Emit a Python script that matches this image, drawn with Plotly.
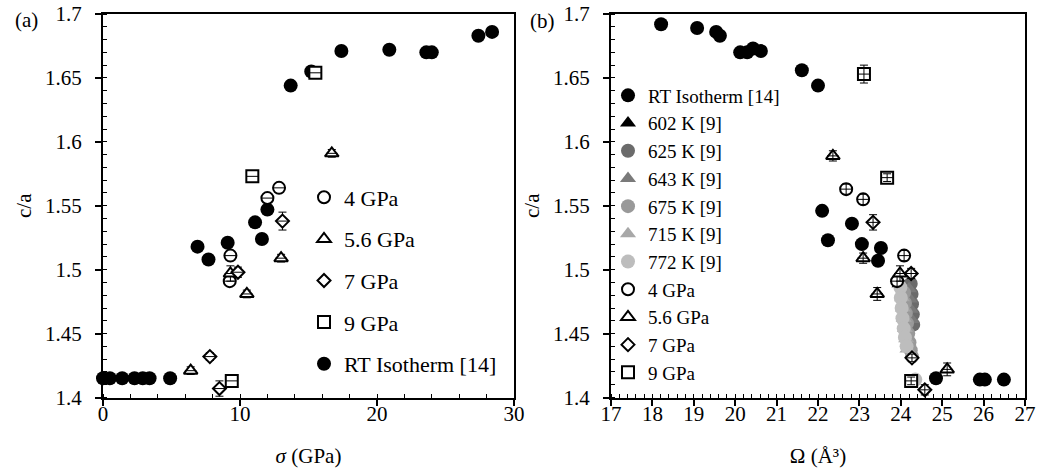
import plotly.graph_objects as go

# ---------------- Panel (a): c/a vs sigma ----------------
rt_sigma = [0.0, 0.5, 1.4, 2.3, 2.9, 3.4, 4.9, 6.9, 7.7, 9.1, 11.1, 11.6, 12.0,
            13.7, 15.2, 17.4, 20.9, 23.6, 24.0, 27.4, 28.4]
rt_ca_a = [1.415, 1.415, 1.415, 1.415, 1.415, 1.415, 1.415, 1.518, 1.508, 1.521,
           1.537, 1.524, 1.547, 1.644, 1.655, 1.671, 1.672, 1.670, 1.670, 1.683, 1.686]

a4_sigma = [9.25, 9.3, 12.0, 12.85]
a4_ca = [1.491, 1.511, 1.556, 1.564]
a4_err = [0.003, 0.003, 0.003, 0.003]

a56_sigma = [6.4, 9.3, 10.5, 13.0, 16.7]
a56_ca = [1.421, 1.497, 1.481, 1.509, 1.591]
a56_err = [0.003, 0.006, 0.003, 0.003, 0.003]

a7_sigma = [8.5, 7.8, 9.85, 13.1]
a7_ca = [1.407, 1.432, 1.498, 1.538]
a7_err = [0.006, 0.003, 0.004, 0.007]

a9_sigma = [9.4, 10.9, 15.5]
a9_ca = [1.413, 1.573, 1.654]
a9_err = [0.003, 0.003, 0.004]

# ---------------- Panel (b): c/a vs Omega ----------------
rt_omega = [18.21, 19.08, 19.54, 19.63, 20.12, 20.29, 20.43, 20.62, 21.61, 22.00,
            22.10, 22.24, 22.82, 23.06, 23.45, 23.52, 24.85, 25.91, 26.03, 26.49]
rt_ca_b = [1.692, 1.689, 1.686, 1.683, 1.670, 1.670, 1.673, 1.671, 1.656, 1.644,
           1.546, 1.523, 1.536, 1.520, 1.507, 1.517, 1.415, 1.414, 1.414, 1.414]

k602_omega = [23.93, 23.97]
k602_ca = [1.493, 1.489]
k625_omega = [24.24, 24.26, 24.27, 24.29, 24.30]
k625_ca = [1.489, 1.481, 1.473, 1.465, 1.457]
k643_omega = [24.20, 24.22, 24.24, 24.26]
k643_ca = [1.485, 1.477, 1.469, 1.461]
k675_omega = [24.08, 24.10, 24.12, 24.15, 24.18, 24.21, 24.24, 24.27]
k675_ca = [1.482, 1.474, 1.466, 1.458, 1.450, 1.443, 1.437, 1.432]
k715_omega = [24.03, 24.05, 24.07, 24.10, 24.13, 24.16]
k715_ca = [1.478, 1.470, 1.462, 1.454, 1.446, 1.438]
k772_omega = [23.99, 24.00, 24.02, 24.04, 24.07, 24.10, 24.14, 24.35]
k772_ca = [1.486, 1.478, 1.470, 1.462, 1.454, 1.447, 1.440, 1.414]

b4_omega = [22.68, 23.09, 24.08, 23.91]
b4_ca = [1.563, 1.555, 1.511, 1.491]
b4_err = [0.004, 0.004, 0.004, 0.004]

b56_omega = [22.36, 23.09, 23.98, 23.43, 25.12]
b56_ca = [1.589, 1.509, 1.497, 1.481, 1.422]
b56_err = [0.004, 0.004, 0.006, 0.005, 0.005]

b7_omega = [23.33, 24.25, 24.27, 24.58]
b7_ca = [1.537, 1.497, 1.431, 1.406]
b7_err = [0.006, 0.004, 0.003, 0.004]

b9_omega = [23.11, 23.67, 24.25]
b9_ca = [1.653, 1.572, 1.413]
b9_err = [0.007, 0.003, 0.003]

FONT = "Liberation Serif"
fig = go.Figure()

SIZES = {"circle": 12, "triangle-up": 12, "diamond": 10, "square": 12}

open_series_a = [
    ("4 GPa", "circle", a4_sigma, a4_ca, a4_err),
    ("5.6 GPa", "triangle-up", a56_sigma, a56_ca, a56_err),
    ("7 GPa", "diamond", a7_sigma, a7_ca, a7_err),
    ("9 GPa", "square", a9_sigma, a9_ca, a9_err),
]
open_series_b = [
    ("4 GPa", "circle", b4_omega, b4_ca, b4_err),
    ("5.6 GPa", "triangle-up", b56_omega, b56_ca, b56_err),
    ("7 GPa", "diamond", b7_omega, b7_ca, b7_err),
    ("9 GPa", "square", b9_omega, b9_ca, b9_err),
]

# ---- panel (a) traces ----
fig.add_trace(go.Scatter(x=rt_sigma, y=rt_ca_a, mode="markers", name="RT Isotherm [14]",
                         marker=dict(symbol="circle", size=14, color="black"),
                         xaxis="x", yaxis="y", legend="legend", legendgroup="a_rt",
                         legendrank=5, cliponaxis=False))
for i, (nm, sym, xs, ys, es) in enumerate(open_series_a):
    fig.add_trace(go.Scatter(x=xs, y=ys, mode="markers", name=nm,
                             marker=dict(symbol=sym, size=SIZES[sym], color="white",
                                         line=dict(color="black", width=2)),
                             error_y=dict(type="data", array=es, color="black",
                                          thickness=1, width=4),
                             xaxis="x", yaxis="y", legend="legend", legendgroup="a" + nm,
                             legendrank=i + 1, cliponaxis=False))
    # horizontal bar drawn across the marker
    fig.add_trace(go.Scatter(x=xs, y=ys, mode="markers", showlegend=False, hoverinfo="skip",
                             marker=dict(size=1, color="rgba(0,0,0,0)"),
                             error_x=dict(type="constant", value=0.42, color="black",
                                          thickness=1, width=0),
                             xaxis="x", yaxis="y", cliponaxis=False))

# ---- panel (b) traces ----
fig.add_trace(go.Scatter(x=rt_omega, y=rt_ca_b, mode="markers", name="RT Isotherm [14]",
                         marker=dict(symbol="circle", size=14, color="black"),
                         xaxis="x2", yaxis="y2", legend="legend2", legendrank=1,
                         cliponaxis=False))
temp_series = [
    ("602 K [9]", "triangle-up", "#000000", k602_omega, k602_ca),
    ("625 K [9]", "circle", "#6b6b6b", k625_omega, k625_ca),
    ("643 K [9]", "triangle-up", "#7a7a7a", k643_omega, k643_ca),
    ("675 K [9]", "circle", "#999999", k675_omega, k675_ca),
    ("715 K [9]", "triangle-up", "#a8a8a8", k715_omega, k715_ca),
    ("772 K [9]", "circle", "#bdbdbd", k772_omega, k772_ca),
]
for i, (nm, sym, col, xs, ys) in enumerate(temp_series):
    fig.add_trace(go.Scatter(x=xs, y=ys, mode="markers", name=nm,
                             marker=dict(symbol=sym, size=14, color=col),
                             xaxis="x2", yaxis="y2", legend="legend2", legendrank=2 + i,
                             cliponaxis=False))
for i, (nm, sym, xs, ys, es) in enumerate(open_series_b):
    fig.add_trace(go.Scatter(x=xs, y=ys, mode="markers", name=nm,
                             marker=dict(symbol=sym, size=SIZES[sym], color="white",
                                         line=dict(color="black", width=2)),
                             xaxis="x2", yaxis="y2", legend="legend2", legendrank=8 + i,
                             cliponaxis=False))
    fig.add_trace(go.Scatter(x=xs, y=ys, mode="markers", showlegend=False, hoverinfo="skip",
                             marker=dict(size=1, color="rgba(0,0,0,0)"),
                             error_x=dict(type="constant", value=0.14, color="black",
                                          thickness=1, width=0),
                             error_y=dict(type="data", array=es, color="black",
                                          thickness=1, width=4),
                             xaxis="x2", yaxis="y2", cliponaxis=False))

tickfont = dict(family=FONT, size=21, color="#000000")
titlefont = dict(family=FONT, size=21, color="#000000")


def base_axis(rng, dtick, minor_dtick, domain, anchor, title, standoff, labelstand):
    return dict(range=rng, dtick=dtick, tick0=rng[0], domain=domain, anchor=anchor,
                showline=True, linecolor="black", linewidth=2, mirror=True,
                ticks="outside", ticklen=6, tickwidth=1.5, tickcolor="black",
                minor=dict(ticks="inside", ticklen=4, tickwidth=1.2, tickcolor="black",
                           dtick=minor_dtick, showgrid=False),
                showgrid=False, zeroline=False, automargin=False,
                tickfont=tickfont, ticklabelstandoff=labelstand,
                title=dict(text=title, font=titlefont, standoff=standoff))


def inner_axis(rng, dtick, overlay, anchor):
    return dict(range=rng, dtick=dtick, tick0=rng[0], overlaying=overlay, anchor=anchor,
                ticks="inside", ticklen=6, tickwidth=1.5, tickcolor="black",
                showticklabels=False, showline=False, showgrid=False, zeroline=False,
                automargin=False)


xa_dom = [103 / 1039, 514 / 1039]
xb_dom = [611 / 1039, 1025 / 1039]
y_dom = [1 - 397.5 / 472, 1 - 14 / 472]

fig.update_layout(
    width=1039, height=472,
    margin=dict(l=0, r=0, t=0, b=0),
    paper_bgcolor="white", plot_bgcolor="white",
    font=dict(family=FONT, size=20, color="#000000"),
    xaxis=base_axis([0, 30], 10, 2, xa_dom, "y", "<i>σ</i> (GPa)", 24, -10),
    yaxis=base_axis([1.4, 1.7], 0.05, 0.01, y_dom, "x", "c/a", 8, 9),
    xaxis2=base_axis([17, 27], 1, 0.2, xb_dom, "y2", "Ω (Å³)", 24, -10),
    yaxis2=base_axis([1.4, 1.7], 0.05, 0.01, y_dom, "x2", "c/a", 8, 9),
    xaxis3=inner_axis([0, 30], 10, "x", "y"),
    yaxis3=inner_axis([1.4, 1.7], 0.05, "y", "x"),
    xaxis4=inner_axis([17, 27], 1, "x2", "y2"),
    yaxis4=inner_axis([1.4, 1.7], 0.05, "y2", "x2"),
    legend=dict(x=304 / 1039, y=1 - 176.5 / 472, xanchor="left", yanchor="top",
                bgcolor="rgba(0,0,0,0)", font=dict(family=FONT, size=22, color="#000000"),
                traceorder="grouped", tracegroupgap=10, itemwidth=30),
    legend2=dict(x=608 / 1039, y=1 - 76.5 / 472, xanchor="left", yanchor="top",
                 bgcolor="rgba(0,0,0,0)", font=dict(family=FONT, size=19, color="#000000"),
                 traceorder="normal", itemwidth=30),
    showlegend=True,
    annotations=[
        dict(text="(a)", x=26 / 1039, y=1 - 20 / 472, xref="paper", yref="paper",
             xanchor="center", yanchor="middle",
             showarrow=False, font=dict(family=FONT, size=21, color="#000000")),
        dict(text="(b)", x=542 / 1039, y=1 - 21 / 472, xref="paper", yref="paper",
             xanchor="center", yanchor="middle",
             showarrow=False, font=dict(family=FONT, size=21, color="#000000")),
    ],
)

fig.write_html("out.html")
